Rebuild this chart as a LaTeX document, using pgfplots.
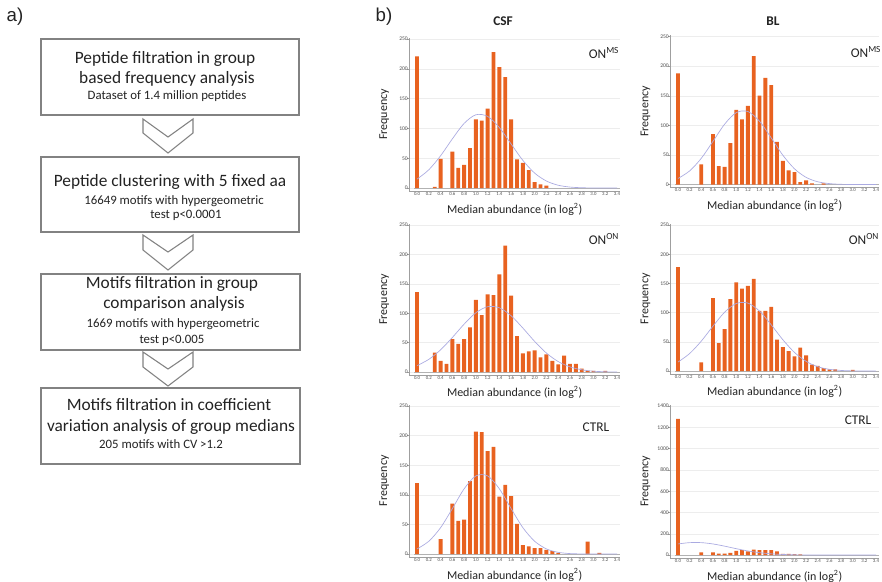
\documentclass[border=0pt]{standalone}
\usepackage{pgfplots}
\pgfplotsset{compat=1.18}
\usepackage{fontspec}
\setmainfont{Carlito}
\newfontfamily\arialf{Liberation Sans}
\definecolor{barfill}{RGB}{232,98,32}
\definecolor{baredge}{RGB}{165,205,110}
\definecolor{gcurve}{RGB}{170,170,225}
\definecolor{txt}{RGB}{35,35,35}
\definecolor{boxline}{RGB}{130,130,130}
\newcommand{\ftitle}{\fontsize{13}{15}\selectfont}
\newcommand{\fsub}{\fontsize{9.6}{11}\selectfont}
\newcommand{\flab}{\fontsize{9}{10}\selectfont}
\pgfplotsset{
  hist/.style={
    scale only axis, anchor=south west,
    axis x line*=bottom, axis y line*=left,
    axis line style={gray!75, line width=0.4pt},
    xmin=-0.13, xmax=3.45,
    xtick={0,0.2,0.4,0.6,0.8,1.0,1.2,1.4,1.6,1.8,2.0,2.2,2.4,2.6,2.8,3.0,3.2,3.4},
    xticklabels={0.0,0.2,0.4,0.6,0.8,1.0,1.2,1.4,1.6,1.8,2.0,2.2,2.4,2.6,2.8,3.0,3.2,3.4},
    minor xtick={-0.05,0.05,0.15,0.25,0.35,0.45,0.55,0.65,0.75,0.85,0.95,1.05,1.15,1.25,1.35,1.45,1.55,1.65,1.75,1.85,1.95,2.05,2.15,2.25,2.35,2.45,2.55,2.65,2.75,2.85,2.95,3.05,3.15,3.25,3.35,3.45},
    xtick style={draw=none},
    tick align=inside,
    minor tick length=2.2pt,
    major tick length=1.5pt,
    ytick style={xshift=-1.5pt, gray!75, line width=0.3pt},
    every minor tick/.style={gray!65, line width=0.3pt},
    ymajorgrids, major grid style={gray!14, line width=0.3pt},
    xticklabel style={font=\fontsize{3.6}{4}\selectfont, text=txt!80, inner sep=0.6pt},
    yticklabel style={font=\fontsize{4.2}{5}\selectfont, text=txt!80, inner sep=1pt},
    /pgf/number format/assume math mode=true,
    /pgf/number format/1000 sep={},
    every axis x label/.style={at={(axis description cs:0.5,-0.118)}, anchor=center, font=\flab, text=txt},
    every axis y label/.style={at={(axis description cs:-0.12,0.5)}, anchor=center, rotate=90, font=\flab, text=txt},
    xlabel={Median abundance (in log\textsuperscript{2})},
    ylabel={Frequency},
    ymin=-5, ymax=252, ytick={0,50,100,150,200,250},
  },
  bars/.style={ybar, bar width=0.066, fill=barfill, draw=none},
  gauss/.style={smooth, gcurve, line width=0.5pt, mark=none},
  base/.style={gray!60, line width=0.3pt, mark=none},
}
\begin{document}
\begin{tikzpicture}[x=0.75pt,y=-0.75pt]
\path[use as bounding box] (0,0) rectangle (882,582);
\fill[white] (0,0) rectangle (882,582);
% ---------- panel a ----------
\node[font=\arialf\fontsize{14}{16}\selectfont, text=txt] at (15,17) {a)};
\node[font=\arialf\fontsize{14}{16}\selectfont, text=txt] at (384,17) {b)};
\begin{scope}[boxline, line width=0.8pt, line join=miter]
\draw (41,39) rectangle (299,115);
\draw (41,157) rectangle (299,232);
\draw (41,274) rectangle (300,350);
\draw (41,388) rectangle (300,464);
\draw (143,119) -- (168,137) -- (193,119) -- (193,133) -- (168,153) -- (143,133) -- cycle;
\draw (143,235) -- (168,252) -- (193,235) -- (193,250) -- (168,270) -- (143,250) -- cycle;
\draw (143,352) -- (168,369) -- (193,352) -- (193,367) -- (168,386) -- (143,367) -- cycle;
\end{scope}
\begin{scope}[every node/.style={text=txt, inner sep=0pt}]
\node[font=\ftitle] at (165,59) {Peptide filtration in group};
\node[font=\ftitle] at (167,79) {based frequency analysis};
\node[font=\fsub] at (167,96) {Dataset of 1.4 million peptides};
\node[font=\ftitle] at (170,182) {Peptide clustering with 5 fixed aa};
\node[font=\fsub] at (174,201) {16649 motifs with hypergeometric};
\node[font=\fsub] at (186,215) {test p<0.0001};
\node[font=\ftitle] at (172,284) {Motifs filtration in group};
\node[font=\ftitle] at (174,304) {comparison analysis};
\node[font=\fsub] at (173,324) {1669 motifs with hypergeometric};
\node[font=\fsub] at (172,340) {test p<0.005};
\node[font=\ftitle] at (169,405) {Motifs filtration in coefficient};
\node[font=\ftitle] at (171,427) {variation analysis of group medians};
\node[font=\fsub] at (161,444) {205 motifs with CV >1.2};
\end{scope}
% ---------- titles ----------
\node[font=\bfseries\fontsize{10}{12}\selectfont, text=txt] at (503,21) {CSF};
\node[font=\bfseries\fontsize{10}{12}\selectfont, text=txt] at (773,21) {BL};
% ---------- A1 CSF ON^MS ----------
\begin{axis}[hist, at={(307.05pt,-143.25pt)}, width=157.9pt, height=114.9pt]
\addplot[base] coordinates {(-0.05,0) (3.45,0)};
\addplot[bars] coordinates {(0,221) (0.3,2) (0.4,49) (0.6,61) (0.7,34) (0.8,39) (0.9,67) (1.0,115) (1.1,113) (1.2,133) (1.3,228) (1.4,203) (1.5,186) (1.6,115) (1.7,48) (1.8,42) (1.9,30) (2.0,10) (2.1,6) (2.2,4)};
\addplot[gauss] coordinates {(0,14.9) (0.2,30.6) (0.4,54.1) (0.6,82.4) (0.8,108.4) (1.0,122.9) (1.2,120.2) (1.4,101.4) (1.6,73.8) (1.8,46.3) (2.0,25.0) (2.2,11.7) (2.4,4.7) (2.6,1.6) (2.8,0.5) (3.0,0.1) (3.2,0) (3.4,0)};
\end{axis}
% ---------- A2 BL ON^MS ----------
\begin{axis}[hist, at={(502.8pt,-140.625pt)}, width=156.4pt, height=114.1pt]
\addplot[base] coordinates {(-0.05,0) (3.45,0)};
\addplot[bars] coordinates {(0,188) (0.4,34) (0.6,85) (0.7,31) (0.8,30) (0.9,70) (1.0,126) (1.1,110) (1.2,133) (1.3,217) (1.4,150) (1.5,180) (1.6,168) (1.7,72) (1.8,40) (1.9,24) (2.0,21) (2.1,4) (2.2,7) (2.3,2) (2.5,2)};
\addplot[gauss] coordinates {(0,10.2) (0.2,23.0) (0.4,44.3) (0.6,72.8) (0.8,101.9) (1.0,121.5) (1.2,123.4) (1.4,106.9) (1.6,78.9) (1.8,49.6) (2.0,26.6) (2.2,12.1) (2.4,4.7) (2.6,1.6) (2.8,0.4) (3.0,0.1) (3.2,0) (3.4,0)};
\end{axis}
% ---------- A3 CSF ON^ON ----------
\begin{axis}[hist, at={(307.05pt,-281.25pt)}, width=157.9pt, height=113.3pt]
\addplot[base] coordinates {(-0.05,0) (3.45,0)};
\addplot[bars] coordinates {(0,136) (0.3,33) (0.4,19) (0.5,14) (0.6,56) (0.7,48) (0.8,56) (0.9,76) (1.0,123) (1.1,97) (1.2,132) (1.3,131) (1.4,166) (1.5,215) (1.6,130) (1.7,61) (1.8,32) (1.9,35) (2.0,37) (2.1,25) (2.2,30) (2.3,19) (2.4,13) (2.5,28) (2.6,14) (2.7,14) (2.8,6) (2.9,2) (3.0,2) (3.2,2)};
\addplot[gauss] coordinates {(0,11.0) (0.2,21.6) (0.4,37.8) (0.6,58.8) (0.8,81.5) (1.0,100.9) (1.2,111.2) (1.4,109.3) (1.6,95.8) (1.8,74.8) (2.0,52.1) (2.2,32.3) (2.4,17.9) (2.6,8.8) (2.8,3.9) (3.0,1.5) (3.2,0.5) (3.4,0.2)};
\end{axis}
% ---------- A4 BL ON^ON ----------
\begin{axis}[hist, at={(502.8pt,-280.5pt)}, width=156.4pt, height=112.6pt]
\addplot[base] coordinates {(-0.05,0) (3.45,0)};
\addplot[bars] coordinates {(0,178) (0.4,15) (0.6,125) (0.7,48) (0.8,72) (0.9,123) (1.0,152) (1.1,141) (1.2,146) (1.3,158) (1.4,103) (1.5,103) (1.6,110) (1.7,54) (1.8,41) (1.9,34) (2.0,25) (2.1,40) (2.2,27) (2.3,11) (2.4,9) (2.5,5) (2.6,3) (2.7,3) (3.0,2)};
\addplot[gauss] coordinates {(0,15.4) (0.2,30.0) (0.4,51.3) (0.6,76.8) (0.8,100.7) (1.0,115.7) (1.2,116.4) (1.4,102.7) (1.6,79.3) (1.8,53.7) (2.0,31.9) (2.2,16.6) (2.4,7.5) (2.6,3.0) (2.8,1.1) (3.0,0.3) (3.2,0.1) (3.4,0)};
\end{axis}
% ---------- A5 CSF CTRL ----------
\begin{axis}[hist, at={(307.05pt,-417.75pt)}, width=157.9pt, height=114.1pt]
\addplot[base] coordinates {(-0.05,0) (3.45,0)};
\addplot[bars] coordinates {(0,120) (0.4,25) (0.6,85) (0.7,56) (0.8,58) (0.9,123) (1.0,207) (1.1,206) (1.2,174) (1.3,181) (1.4,97) (1.5,117) (1.6,98) (1.7,51) (1.8,15) (1.9,13) (2.0,10) (2.1,10) (2.2,7) (2.3,5) (2.4,2) (2.9,21) (3.1,2)};
\addplot[gauss] coordinates {(0,8.7) (0.2,21.6) (0.4,44.5) (0.6,76.7) (0.8,110.1) (1.0,132.0) (1.2,132.0) (1.4,110.1) (1.6,76.7) (1.8,44.5) (2.0,21.6) (2.2,8.7) (2.4,2.9) (2.6,0.8) (2.8,0.2) (3.0,0) (3.2,0) (3.4,0)};
\end{axis}
% ---------- A6 BL CTRL ----------
\begin{axis}[hist, at={(502.8pt,-418.5pt)}, width=156.4pt, height=114.8pt, ymin=-28, ymax=1410, ytick={0,200,400,600,800,1000,1200,1400}]
\addplot[base] coordinates {(-0.05,0) (3.45,0)};
\addplot[bars] coordinates {(0,1278) (0.4,25) (0.6,25) (0.7,12) (0.8,12) (0.9,20) (1.0,40) (1.1,45) (1.2,35) (1.3,50) (1.4,45) (1.5,45) (1.6,45) (1.7,35) (1.8,10) (1.9,10) (2.0,8) (2.1,5)};
\addplot[gauss] coordinates {(0,104.1) (0.2,116.4) (0.4,116.4) (0.6,104.1) (0.8,83.4) (1.0,59.7) (1.2,38.3) (1.4,22.0) (1.6,11.3) (1.8,5.2) (2.0,2.1) (2.2,0.8) (2.4,0.3) (2.6,0.1) (2.8,0) (3.0,0) (3.2,0) (3.4,0)};
\end{axis}
% ---------- group labels ----------
\begin{scope}[every node/.style={text=txt, font=\fontsize{10}{12}\selectfont}]
\node at (604,53) {ON\textsuperscript{MS}};
\node at (866,52) {ON\textsuperscript{MS}};
\node at (604,239) {ON\textsuperscript{ON}};
\node at (864,239) {ON\textsuperscript{ON}};
\node at (596,427) {CTRL};
\node at (858,420) {CTRL};
\end{scope}
\end{tikzpicture}
\end{document}
